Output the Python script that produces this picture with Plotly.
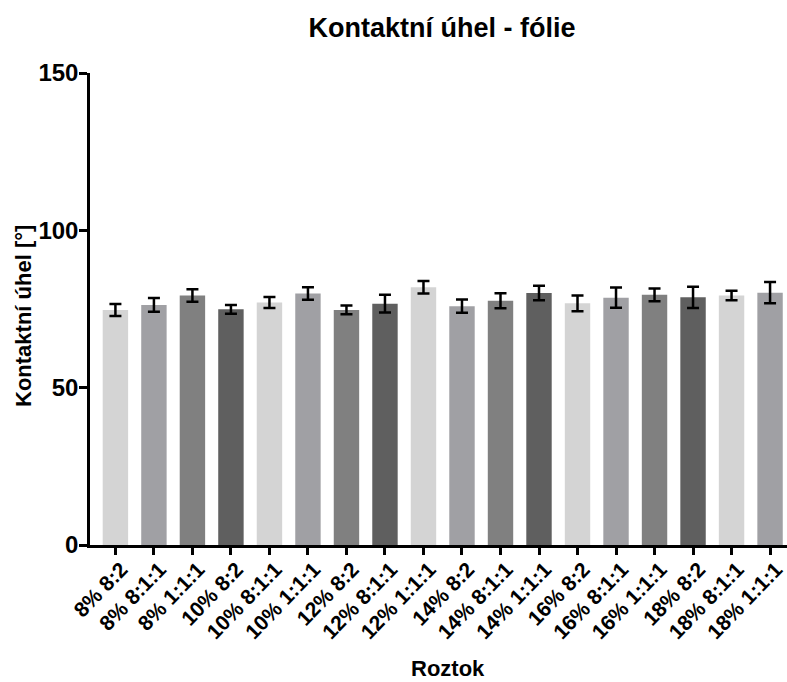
import plotly.graph_objects as go

# Contact angle measurements on films, grouped by concentration and ratio
categories = [
    "8% 8:2", "8% 8:1:1", "8% 1:1:1",
    "10% 8:2", "10% 8:1:1", "10% 1:1:1",
    "12% 8:2", "12% 8:1:1", "12% 1:1:1",
    "14% 8:2", "14% 8:1:1", "14% 1:1:1",
    "16% 8:2", "16% 8:1:1", "16% 1:1:1",
    "18% 8:2", "18% 8:1:1", "18% 1:1:1",
]
means = [74.7, 76.3, 79.3, 74.9, 77.1, 79.9, 74.7, 76.7, 81.9,
         75.9, 77.6, 80.1, 76.8, 78.6, 79.5, 78.7, 79.3, 80.2]
errors = [1.9, 2.2, 2.0, 1.4, 1.75, 2.0, 1.4, 2.8, 2.0,
          2.1, 2.4, 2.3, 2.5, 3.2, 2.0, 3.4, 1.5, 3.4]
y_ticks = [0, 50, 100, 150]

# four grey shades repeating along the bars
shades = ["#d4d4d4", "#a0a0a4", "#808080", "#5f5f5f"]
bar_colors = [shades[i % 4] for i in range(len(categories))]

FONT = "Liberation Sans, Arial, sans-serif"
W, H = 787, 682
L, R, T, B = 90, 0, 73, 137
plot_w = W - L - R
plot_h = H - T - B

fig = go.Figure(
    go.Bar(
        x=categories,
        y=means,
        marker=dict(color=bar_colors, line=dict(width=0)),
        width=0.66,
        error_y=dict(type="data", array=errors, visible=True,
                     color="black", thickness=2.5, width=6),
    )
)

fig.update_layout(
    width=W,
    height=H,
    paper_bgcolor="white",
    plot_bgcolor="white",
    margin=dict(l=L, r=R, t=T, b=B),
    showlegend=False,
    font=dict(family=FONT, color="black"),
    title=dict(
        text="<b>Kontaktní úhel - fólie</b>",
        x=(442 - L) / plot_w, xref="paper", xanchor="center",
        y=1 - 28 / H, yref="container", yanchor="middle",
        font=dict(size=27, family=FONT, color="black"),
    ),
)

fig.update_xaxes(
    range=[-0.66, 17.44],
    showline=True, linecolor="black", linewidth=2.5,
    ticks="outside", ticklen=7, tickwidth=2.5, tickcolor="black",
    tickangle=-46, ticklabelshift=6, ticklabelstandoff=-6,
    tickfont=dict(size=21, family=FONT, color="black", weight="bold"),
    showgrid=False, zeroline=False,
)

fig.update_yaxes(
    range=[0, 150],
    tickvals=y_ticks,
    showline=True, linecolor="black", linewidth=2.5,
    ticks="outside", ticklen=8, tickwidth=2.5, tickcolor="black",
    ticklabelstandoff=-4,
    tickfont=dict(size=24, family=FONT, color="black", weight="bold"),
    showgrid=False, zeroline=False,
)

# axis titles
fig.add_annotation(
    text="<b>Roztok</b>", showarrow=False,
    xref="paper", yref="paper",
    x=(448 - L) / plot_w, y=-(668 - (T + plot_h)) / plot_h,
    xanchor="center", yanchor="middle",
    font=dict(size=22, family=FONT, color="black"),
)
fig.add_annotation(
    text="<b>Kontaktní úhel [°]</b>", showarrow=False, textangle=-90,
    xref="paper", yref="paper",
    x=-(L - 23) / plot_w, y=1 - (316 - T) / plot_h,
    xanchor="center", yanchor="middle",
    font=dict(size=22, family=FONT, color="black"),
)

fig.write_html("out.html")
